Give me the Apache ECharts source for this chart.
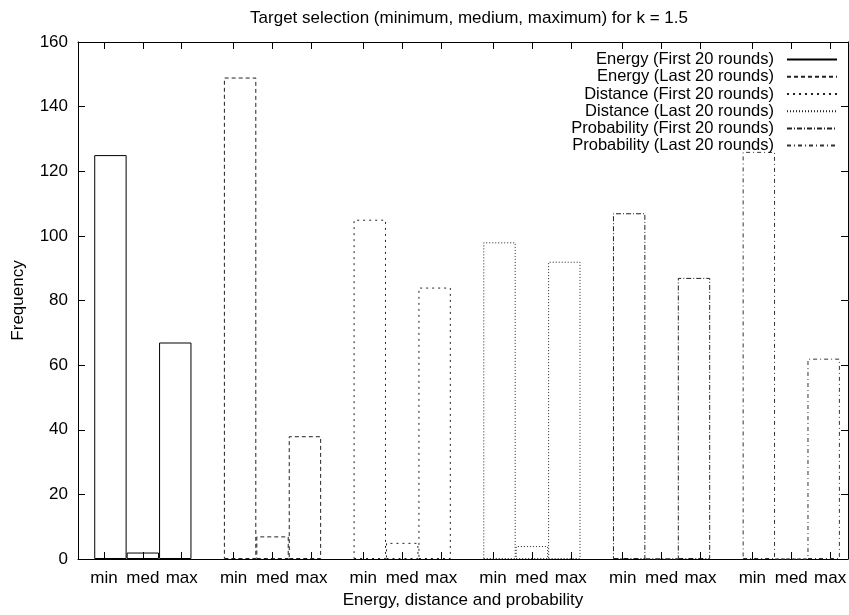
<!DOCTYPE html>
<html>
<head>
<meta charset="utf-8">
<script src="https://cdn.jsdelivr.net/npm/echarts@6/dist/echarts.min.js"></script>
<style>
  html, body { margin: 0; padding: 0; background: #fff; }
  #chart { width: 849px; height: 615px; }
</style>
</head>
<body>
<div id="chart"></div>
<script>
var seriesNames = [
  'Energy (First 20 rounds)',
  'Energy (Last 20 rounds)',
  'Distance (First 20 rounds)',
  'Distance (Last 20 rounds)',
  'Probability (First 20 rounds)',
  'Probability (Last 20 rounds)'
];
var groupLabels = ['min', 'med', 'max'];

// [min, med, max] for each group
var energyFirst = [125, 2, 67];
var energyLast = [149, 7, 38];
var distanceFirst = [105, 5, 84];
var distanceLast = [98, 4, 92];
var probabilityFirst = [107, 0, 87];
var probabilityLast = [126, 0, 62];

var groupValues = [energyFirst, energyLast, distanceFirst, distanceLast, probabilityFirst, probabilityLast];

var yTicks = [0, 20, 40, 60, 80, 100, 120, 140, 160];

// line dash per series (gnuplot mono styles)
var dashes = ['solid', [4, 3], [2, 4], [1, 2], [5, 2, 1, 2], [4, 3, 1, 3]];
var lineColors = ['#000', '#222', '#222', '#222', '#222', '#333'];

// each group takes 4 slots (3 bars + gap); ticks sit 1.2 slots apart around the middle bar
var tickValues = [];
var tickText = [];
groupValues.forEach(function (vals, g) {
  for (var j = 0; j < 3; j++) {
    tickValues.push(4 * g + 1 + (j - 1) * 1.2);
    tickText.push(groupLabels[j]);
  }
});

function labelFor(v) {
  var best = 0;
  for (var i = 1; i < tickValues.length; i++) {
    if (Math.abs(tickValues[i] - v) < Math.abs(tickValues[best] - v)) best = i;
  }
  return tickText[best];
}

var font = 'Liberation Sans, Arial, Helvetica, sans-serif';

var series = [];
// line series only carry the legend icons
seriesNames.forEach(function (name, i) {
  series.push({
    name: name,
    type: 'line',
    data: [],
    symbol: 'none',
    itemStyle: { color: 'rgba(0,0,0,0)', borderWidth: 0 },
    lineStyle: { color: lineColors[i], width: 1, type: dashes[i] }
  });
});
seriesNames.forEach(function (name, g) {
  series.push({
    name: name,
    type: 'bar',
    barWidth: 32.4,
    barGap: '-100%',
    data: groupValues[g].map(function (v, j) { return [4 * g + j, v]; }),
    itemStyle: {
      color: 'rgba(255,255,255,0)',
      borderColor: lineColors[g],
      borderWidth: 1,
      borderType: dashes[g]
    }
  });
});

var option = {
  animation: false,
  backgroundColor: '#fff',
  textStyle: { fontFamily: font },
  title: {
    text: 'Target selection (minimum, medium, maximum) for k = 1.5',
    left: 464,
    textAlign: 'center',
    top: 5,
    textStyle: { fontSize: 17, fontWeight: 'normal', color: '#000', fontFamily: font }
  },
  legend: {
    data: seriesNames,
    orient: 'vertical',
    align: 'right',
    right: 6,
    top: 46,
    itemWidth: 50,
    itemHeight: 10,
    itemGap: 0,
    itemStyle: { opacity: 0 },
    textStyle: { fontSize: 16.5, color: '#000', lineHeight: 17.2, padding: [0, 8, 0, 0], fontFamily: font }
  },
  grid: { left: 78, right: 1, top: 42, bottom: 56, containLabel: false, outerBoundsMode: 'none' },
  xAxis: [
    {
      type: 'value',
      position: 'bottom',
      min: -1,
      max: 22.75,
      name: 'Energy, distance and probability',
      nameLocation: 'middle',
      nameGap: 30,
      nameTextStyle: { fontSize: 17, color: '#000', fontFamily: font },
      axisLine: { show: true, onZero: false, lineStyle: { color: '#000', width: 1 } },
      axisTick: { show: true, inside: true, length: 7, customValues: tickValues, lineStyle: { color: '#000' } },
      axisLabel: {
        show: true,
        customValues: tickValues,
        formatter: labelFor,
        fontSize: 17,
        color: '#000',
        margin: 11,
        fontFamily: font
      },
      splitLine: { show: false }
    },
    {
      type: 'value',
      position: 'top',
      min: -1,
      max: 22.75,
      axisLine: { show: true, onZero: false, lineStyle: { color: '#000', width: 1 } },
      axisTick: { show: true, inside: true, length: 7, customValues: tickValues, lineStyle: { color: '#000' } },
      axisLabel: { show: false },
      splitLine: { show: false }
    }
  ],
  yAxis: [
    {
      type: 'value',
      position: 'left',
      min: 0,
      max: 160,
      interval: 20,
      name: 'Frequency',
      nameLocation: 'middle',
      nameGap: 51,
      nameTextStyle: { fontSize: 17, color: '#000', fontFamily: font },
      axisLine: { show: true, onZero: false, lineStyle: { color: '#000', width: 1 } },
      axisTick: { show: true, inside: true, length: 7, customValues: yTicks, lineStyle: { color: '#000' } },
      axisLabel: { fontSize: 17, color: '#000', margin: 10, fontFamily: font },
      splitLine: { show: false }
    },
    {
      type: 'value',
      position: 'right',
      min: 0,
      max: 160,
      interval: 20,
      axisLine: { show: true, onZero: false, lineStyle: { color: '#000', width: 1 } },
      axisTick: { show: true, inside: true, length: 7, lineStyle: { color: '#000' } },
      axisLabel: { show: false },
      splitLine: { show: false }
    }
  ],
  series: series
};

var chart = echarts.init(document.getElementById('chart'));
chart.setOption(option);
</script>
</body>
</html>
